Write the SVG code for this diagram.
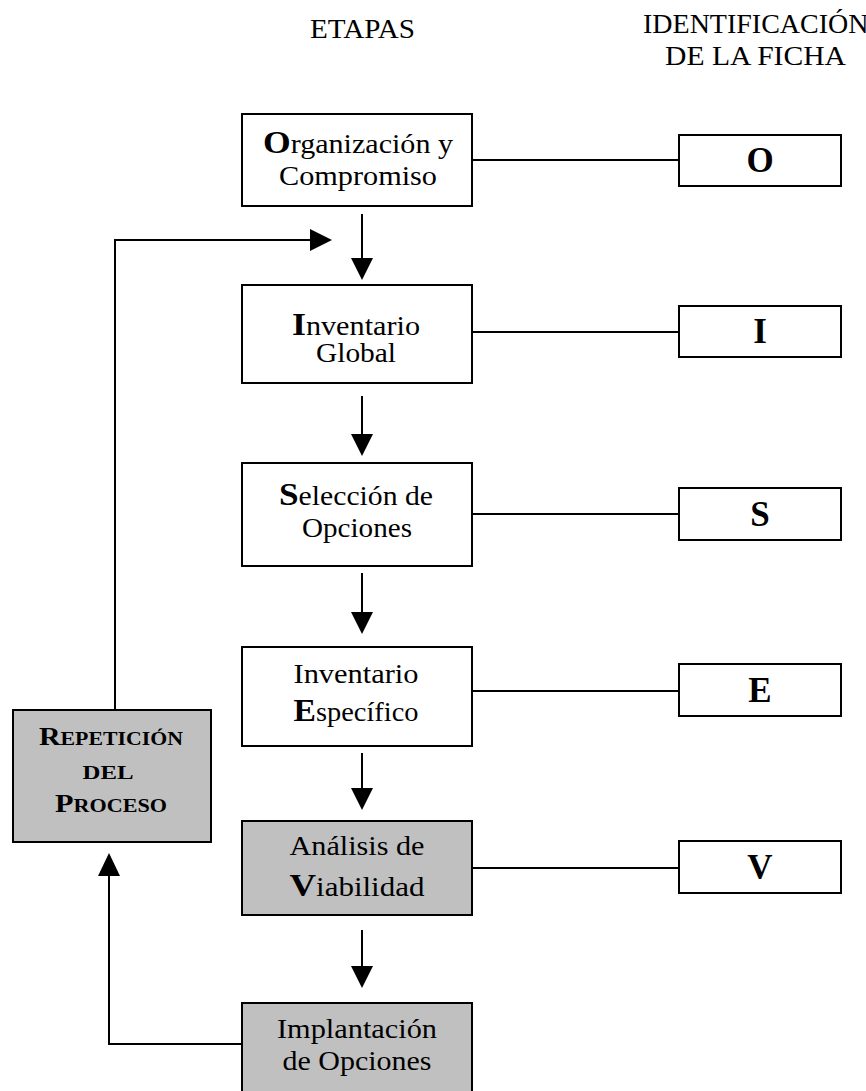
<svg xmlns="http://www.w3.org/2000/svg" width="866" height="1091" viewBox="0 0 866 1091">
<style>
.box{fill:#fff;stroke:#000;stroke-width:2}
.gray{fill:#c0c0c0;stroke:#000;stroke-width:2}
.t{font-family:"Liberation Serif","Times New Roman",serif;font-size:27px;fill:#000;text-anchor:middle}
.h{font-family:"Liberation Serif","Times New Roman",serif;font-size:28px;fill:#000}
.b{font-weight:bold;font-size:32px}
.id{font-family:"Liberation Serif","Times New Roman",serif;font-size:35px;font-weight:bold;fill:#000;text-anchor:middle}
.sc{font-family:"Liberation Serif","Times New Roman",serif;font-weight:bold;fill:#000;text-anchor:middle;font-size:26px}
.s{font-size:19px}
.line{fill:none;stroke:#000;stroke-width:2}
</style>
<rect width="866" height="1091" fill="#fff"/>
<text class="h" x="362.5" y="38" text-anchor="middle" textLength="105" lengthAdjust="spacingAndGlyphs">ETAPAS</text>
<text class="h" x="643" y="33">IDENTIFICACIÓN</text>
<text class="h" x="755.5" y="65" text-anchor="middle" textLength="181" lengthAdjust="spacingAndGlyphs">DE LA FICHA</text>

<g id="connectors">
<line class="line" x1="472" y1="160" x2="680" y2="160"/>
<line class="line" x1="472" y1="332" x2="680" y2="332"/>
<line class="line" x1="472" y1="514" x2="680" y2="514"/>
<line class="line" x1="472" y1="691" x2="680" y2="691"/>
<line class="line" x1="472" y1="868" x2="680" y2="868"/>
<g fill="#000">
<line class="line" x1="362" y1="214" x2="362" y2="260"/><path d="M351,258 L373,258 L362,280 z"/>
<line class="line" x1="362" y1="396" x2="362" y2="436"/><path d="M351,434 L373,434 L362,456 z"/>
<line class="line" x1="362" y1="573" x2="362" y2="614"/><path d="M351,612 L373,612 L362,634 z"/>
<line class="line" x1="362" y1="753" x2="362" y2="790"/><path d="M351,788 L373,788 L362,810 z"/>
<line class="line" x1="362" y1="930" x2="362" y2="968"/><path d="M351,966 L373,966 L362,988 z"/>
<polyline class="line" points="242,1044 109,1044 109,874"/><path d="M98,876 L120,876 L109,853 z"/>
<polyline class="line" points="115,710 115,240 312,240"/><path d="M310,229 L310,251 L332,240 z"/>
</g>
</g>

<g id="n1"><rect class="box" x="242" y="114" width="230" height="92"/>
<text class="t" x="358" y="153" textLength="190" lengthAdjust="spacingAndGlyphs"><tspan class="b">O</tspan>rganización y</text>
<text class="t" x="358" y="185" textLength="158" lengthAdjust="spacingAndGlyphs">Compromiso</text></g>
<g id="n2"><rect class="box" x="242" y="285" width="230" height="98"/>
<text class="t" x="356" y="335" textLength="128" lengthAdjust="spacingAndGlyphs"><tspan class="b">I</tspan>nventario</text>
<text class="t" x="356" y="362" textLength="80" lengthAdjust="spacingAndGlyphs">Global</text></g>
<g id="n3"><rect class="box" x="242" y="463" width="230" height="103"/>
<text class="t" x="356" y="505" textLength="154" lengthAdjust="spacingAndGlyphs"><tspan class="b">S</tspan>elección de</text>
<text class="t" x="357" y="537" textLength="110" lengthAdjust="spacingAndGlyphs">Opciones</text></g>
<g id="n4"><rect class="box" x="242" y="647" width="230" height="99"/>
<text class="t" x="356" y="683" textLength="125" lengthAdjust="spacingAndGlyphs">Inventario</text>
<text class="t" x="356" y="721" textLength="125" lengthAdjust="spacingAndGlyphs"><tspan class="b">E</tspan>specífico</text></g>
<g id="n5"><rect class="gray" x="242" y="821" width="230" height="94"/>
<text class="t" x="357" y="855" textLength="135" lengthAdjust="spacingAndGlyphs">Análisis de</text>
<text class="t" x="357" y="896" textLength="135" lengthAdjust="spacingAndGlyphs"><tspan class="b">V</tspan>iabilidad</text></g>
<g id="n6"><rect class="gray" x="242" y="1003" width="230" height="100"/>
<text class="t" x="357" y="1038" textLength="160" lengthAdjust="spacingAndGlyphs">Implantación</text>
<text class="t" x="357" y="1070" textLength="149" lengthAdjust="spacingAndGlyphs">de Opciones</text></g>
<g id="rep"><rect class="gray" x="13" y="710" width="198" height="132"/>
<text class="sc" x="111" y="745" textLength="144" lengthAdjust="spacingAndGlyphs">R<tspan class="s">EPETICIÓN</tspan></text>
<text class="sc" x="108" y="779" textLength="51" lengthAdjust="spacingAndGlyphs"><tspan class="s">DEL</tspan></text>
<text class="sc" x="111" y="812" textLength="112" lengthAdjust="spacingAndGlyphs">P<tspan class="s">ROCESO</tspan></text></g>

<g id="idO"><rect class="box" x="679" y="135" width="162" height="51"/><text class="id" x="760" y="172">O</text></g>
<g id="idI"><rect class="box" x="679" y="306" width="162" height="51"/><text class="id" x="760" y="343">I</text></g>
<g id="idS"><rect class="box" x="679" y="488" width="162" height="52"/><text class="id" x="760" y="526">S</text></g>
<g id="idE"><rect class="box" x="679" y="664" width="162" height="52"/><text class="id" x="760" y="702">E</text></g>
<g id="idV"><rect class="box" x="679" y="841" width="162" height="52"/><text class="id" x="760" y="879">V</text></g>
</svg>
